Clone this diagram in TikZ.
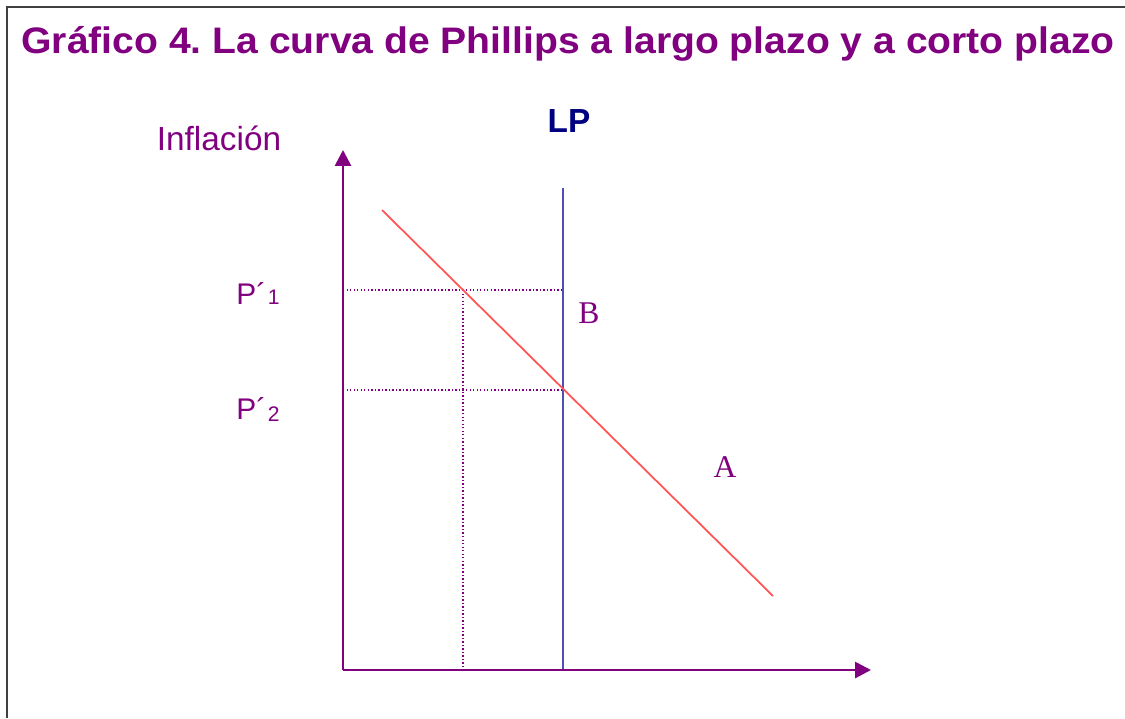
\documentclass[tikz,border=0pt]{standalone}
\usepackage{fontspec}
\setmainfont{Liberation Sans}
\newfontfamily\serifA{Liberation Serif}
\usetikzlibrary{arrows.meta}
\definecolor{morado}{RGB}{128,0,128}
\definecolor{marino}{RGB}{0,0,128}
\definecolor{azul}{RGB}{80,80,180}
\definecolor{rojo}{RGB}{255,85,85}
\tikzset{
	eje/.style={draw=morado, line width=1.6pt, -{Triangle[length=9pt, width=9pt]}},
	guia/.style={draw=morado, line width=0.8pt, dash pattern=on 0.8pt off 1.2pt},
	etiq/.style={text=morado, inner sep=0pt, font=\fontsize{17}{17}\selectfont},
	punto/.style={text=morado, inner sep=0pt, font=\serifA\fontsize{18}{18}\selectfont}
}

\begin{document}
\frenchspacing
\begin{tikzpicture}[x=0.02cm, y=-0.02cm]
\useasboundingbox (0,0) rectangle (1125,718);
\draw[line width=1.1pt, black!75] (7,718) -- (7,7) -- (1125,7);
\node (titulo) [anchor=base, inner sep=0pt, text=morado, xscale=1.06, font=\bfseries\fontsize{21}{21}\selectfont] at (568,53) {Gráfico 4. La curva de Phillips a largo plazo y a corto plazo};
\node (infl) [etiq, anchor=base, font=\fontsize{19}{19}\selectfont] at (219,150) {Inflación};
\node (lp) [anchor=base, inner sep=0pt, text=marino, font=\bfseries\fontsize{19}{19}\selectfont] at (569,132) {LP};
\node (p1) [etiq, anchor=base west] at (236,304) {P´\kern1pt{\fontsize{12}{12}\selectfont 1}};
\node (p2) [etiq, anchor=base west] at (236,419) {P´\kern1pt{\fontsize{12}{12}\selectfont\raisebox{-0.2ex}{2}}};
\node (b) [punto, anchor=base] at (589,323) {B};
\node (a) [punto, anchor=base] at (725,477) {A};
\coordinate (o) at (343,670);
\coordinate (ytop) at (343,150);
\coordinate (xend) at (871,670);
\coordinate (lptop) at (563,188);
\coordinate (lpbot) at (563,670);
\coordinate (c1) at (382,210);
\coordinate (c2) at (773,596);
\coordinate (h1) at (343,290);
\coordinate (h1e) at (563,290);
\coordinate (h2) at (343,390);
\coordinate (h2e) at (563,390);
\coordinate (v1) at (463,290);
\coordinate (v1b) at (463,670);
\draw[guia] (h1) -- (h1e);
\draw[guia] (h2) -- (h2e);
\draw[guia] (v1) -- (v1b);
\draw[azul, line width=0.8pt] (lptop) -- (lpbot);
\draw[rojo, line width=1pt] (c1) -- (c2);
\draw[eje] (o) -- (ytop);
\draw[eje] (o) -- (xend);
\end{tikzpicture}
\end{document}
